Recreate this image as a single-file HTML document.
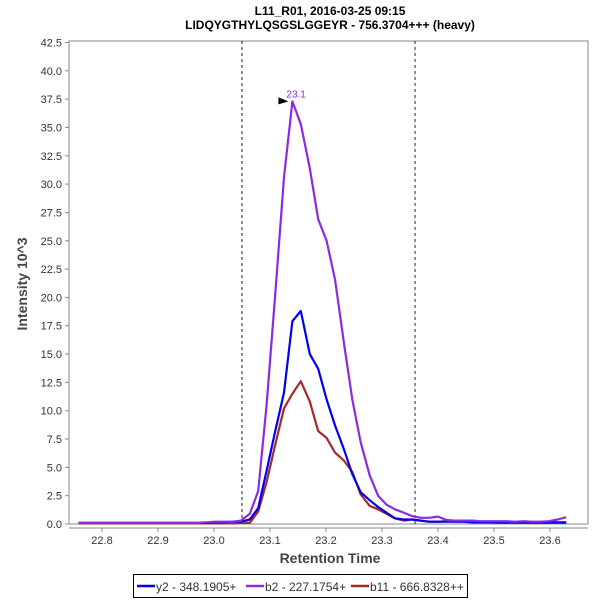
<!DOCTYPE html>
<html><head><meta charset="utf-8"><style>
html,body{margin:0;padding:0;background:#fff;width:600px;height:600px;overflow:hidden}
svg{display:block;font-family:"Liberation Sans","DejaVu Sans",sans-serif}
</style></head><body>
<svg id="chart" width="600" height="600">
<text x="330" y="15" text-anchor="middle" font-size="12" font-weight="bold" fill="#000">L11_R01, 2016-03-25 09:15</text>
<text x="330" y="29" text-anchor="middle" font-size="12" font-weight="bold" fill="#000">LIDQYGTHYLQSGSLGGEYR - 756.3704+++ (heavy)</text>
<rect x="69" y="41" width="519" height="483" fill="#fff" stroke="#888" stroke-width="1"/>
<line x1="69" y1="528" x2="588" y2="528" stroke="#888"/>
<g id="yaxis"></g>
<g id="xaxis"></g>
<g id="marks"></g>
<text x="330" y="563" text-anchor="middle" font-size="14" font-weight="bold" fill="#444">Retention Time</text>
<text transform="translate(27,284) rotate(-90)" text-anchor="middle" font-size="14" font-weight="bold" fill="#444">Intensity 10^3</text>
<g>
<rect x="133.5" y="574.5" width="334" height="23" fill="#fff" stroke="#000"/>
<g><line x1="137" y1="586" x2="155" y2="586" stroke="#0000ee" stroke-width="2.5"/><text x="156" y="591" font-size="12" fill="#333">y2 - 348.1905+</text></g>
<g><line x1="246" y1="586" x2="264" y2="586" stroke="#8a2be2" stroke-width="2.5"/><text x="265" y="591" font-size="12" fill="#333">b2 - 227.1754+</text></g>
<g><line x1="351" y1="586" x2="369" y2="586" stroke="#a52a2a" stroke-width="2.5"/><text x="370" y="591" font-size="12" fill="#333">b11 - 666.8328++</text></g>
</g>
</svg>
<script>
const times=[22.758,22.773,22.789,22.804,22.819,22.834,22.850,22.865,22.880,22.896,22.911,22.926,22.941,22.957,22.972,22.987,23.002,23.018,23.033,23.048,23.064,23.079,23.094,23.109,23.125,23.140,23.155,23.171,23.186,23.201,23.216,23.232,23.247,23.262,23.278,23.293,23.308,23.323,23.339,23.354,23.369,23.384,23.400,23.415,23.430,23.446,23.461,23.476,23.491,23.507,23.522,23.537,23.553,23.568,23.583,23.598,23.614,23.629];
const y2Values=[0.1,0.1,0.1,0.1,0.1,0.1,0.1,0.1,0.1,0.1,0.1,0.1,0.1,0.1,0.1,0.1,0.15,0.15,0.2,0.2,0.4,1.4,4.7,8.1,11.6,17.9,18.8,15.0,13.7,11.0,8.7,6.6,4.4,2.8,2.1,1.5,1.0,0.5,0.4,0.4,0.3,0.2,0.2,0.2,0.2,0.2,0.15,0.15,0.15,0.15,0.15,0.15,0.15,0.15,0.15,0.15,0.15,0.15];
const b2Values=[0.1,0.1,0.1,0.1,0.1,0.1,0.1,0.1,0.1,0.1,0.1,0.1,0.1,0.1,0.1,0.15,0.2,0.2,0.2,0.3,0.9,2.9,10.5,20.0,30.6,37.3,35.3,31.4,26.9,25.0,21.6,16.0,11.0,7.2,4.3,2.5,1.7,1.3,1.0,0.7,0.55,0.55,0.65,0.35,0.3,0.3,0.3,0.25,0.25,0.25,0.25,0.2,0.25,0.2,0.2,0.25,0.4,0.6];
const b11Values=[0.05,0.05,0.05,0.05,0.05,0.05,0.05,0.05,0.05,0.05,0.05,0.05,0.05,0.05,0.05,0.05,0.05,0.05,0.05,0.1,0.1,1.1,3.7,6.9,10.2,11.5,12.6,10.8,8.2,7.6,6.3,5.6,4.6,2.6,1.6,1.3,0.9,0.5,0.3,0.4,0.3,0.2,0.2,0.25,0.2,0.2,0.15,0.15,0.15,0.1,0.1,0.1,0.1,0.1,0.1,0.1,0.1,0.1];
const yTicks=[0,2.5,5,7.5,10,12.5,15,17.5,20,22.5,25,27.5,30,32.5,35,37.5,40,42.5];
const xTicks=[22.8,22.9,23.0,23.1,23.2,23.3,23.4,23.5,23.6];
const boundaries=[23.05,23.359];
const apexLabel="23.1";

const NS="http://www.w3.org/2000/svg";
function X(t){return 102+(t-22.8)*560;}
function Y(v){return 524-v*11.33;}
function mk(tag,attrs,parent,txt){const e=document.createElementNS(NS,tag);for(const k in attrs)e.setAttribute(k,attrs[k]);if(txt!==undefined)e.textContent=txt;parent.appendChild(e);return e;}
const ya=document.getElementById('yaxis'),xa=document.getElementById('xaxis'),mg=document.getElementById('marks');
yTicks.forEach(v=>{
  const l=mk('line',{x1:65,x2:69,y1:Y(v),y2:Y(v),stroke:'#888'},ya);
  
  
  const t=mk('text',{x:62,y:Y(v)+4,'text-anchor':'end','font-size':11,fill:'#333'},ya,v.toFixed(1));
  
  
});
xTicks.forEach(v=>{
  const l=mk('line',{x1:X(v),x2:X(v),y1:528,y2:532,stroke:'#888'},xa);
  
  
  const t=mk('text',{x:X(v),y:544,'text-anchor':'middle','font-size':11,fill:'#333'},xa,v.toFixed(1));
  
  
});
boundaries.forEach(b=>{
  const l=mk('line',{x1:X(b),x2:X(b),y1:41,y2:524,stroke:'#222','stroke-dasharray':'3,3','stroke-width':1},mg);
  
  
});
function series(vals,color,name){
  const d=vals.map((v,i)=>(i?'L':'M')+X(times[i]).toFixed(1)+','+Y(v).toFixed(1)).join(' ');
  const p=mk('path',{d:d,fill:'none',stroke:color,'stroke-width':2.2,'stroke-linejoin':'round'},mg);
  
  
}
series(b11Values,'#a52a2a','series-b11');
series(y2Values,'#0000ee','series-y2');
series(b2Values,'#8a2be2','series-b2');
let mi=0;b2Values.forEach((v,i)=>{if(v>b2Values[mi])mi=i;});
const ax=X(times[mi]),ay=Y(b2Values[mi]);
const arr=mk('path',{d:`M${ax-14},${ay-4} L${ax-4},${ay} L${ax-14},${ay+3} Z`,fill:'#000'},mg);


const al=mk('text',{x:ax-6,y:ay-4,'font-size':10,fill:'#8a2be2'},mg,apexLabel);


</script>
</body></html>
